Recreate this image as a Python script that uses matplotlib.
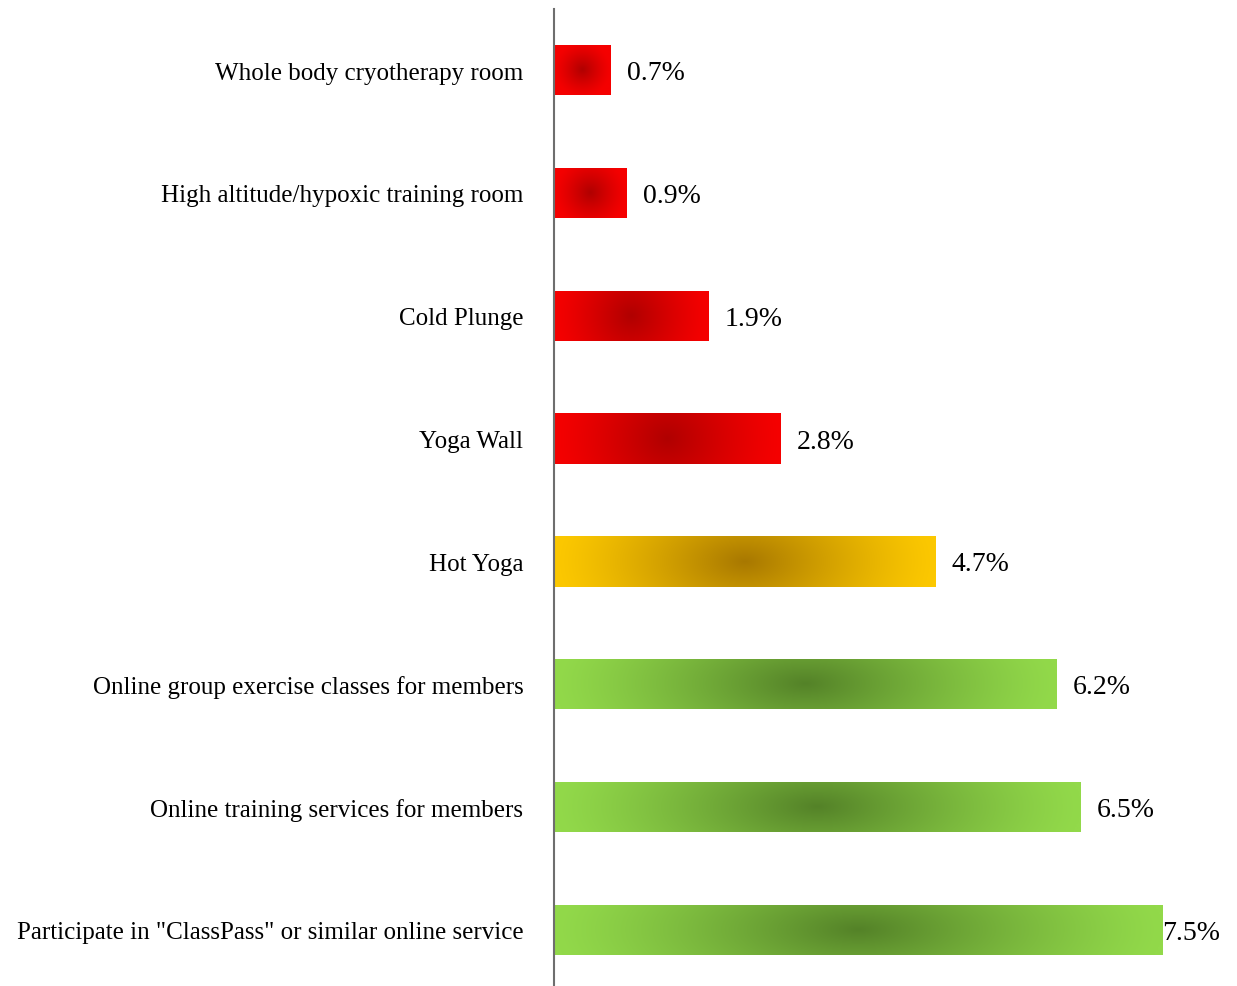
import numpy as np
import matplotlib.pyplot as plt
from matplotlib.colors import to_rgb

# Survey results: share of facilities offering each amenity / service
categories = [
    "Whole body cryotherapy room",
    "High altitude/hypoxic training room",
    "Cold Plunge",
    "Yoga Wall",
    "Hot Yoga",
    "Online group exercise classes for members",
    "Online training services for members",
    'Participate in "ClassPass" or similar online service',
]
values = [0.7, 0.9, 1.9, 2.8, 4.7, 6.2, 6.5, 7.5]
value_labels = ["0.7%", "0.9%", "1.9%", "2.8%", "4.7%", "6.2%", "6.5%", "7.5%"]
bar_groups = ["red", "red", "red", "red", "gold", "green", "green", "green"]

# (edge colour, centre colour) for each gradient
palettes = {
    "red": ("#f50000", "#b00000"),
    "gold": ("#fcc800", "#a87800"),
    "green": ("#92d94a", "#548228"),
}

plt.rcParams["font.family"] = ["Liberation Serif", "DejaVu Serif"]

fig = plt.figure(figsize=(12.37, 9.87), dpi=100)
ax = fig.add_axes([554 / 1237, 0, 683 / 1237, 977 / 987])

ypos = np.arange(len(categories))
bars = ax.barh(ypos, values, height=0.41, color="none", edgecolor="none")

ax.set_xlim(0, 683 / 81.07)
ax.set_ylim(7 + 0.456, -0.497)


def gradient_image(edge, centre, yscale, nx=400, ny=60):
    # dark spot in the middle fading out towards the bar edges
    x = np.linspace(-1, 1, nx)
    y = np.linspace(-1, 1, ny)
    X, Y = np.meshgrid(x, y)
    t = np.clip(np.sqrt(X ** 2 + (yscale * Y) ** 2), 0, 1)
    w = (1 - t) ** 1.25
    e = np.array(to_rgb(edge))
    c = np.array(to_rgb(centre))
    return e + (c - e) * w[..., None]


for rect, grp in zip(bars, bar_groups):
    x0, y0 = rect.get_x(), rect.get_y()
    w, h = rect.get_width(), rect.get_height()
    # roughly round spot on short bars, stretched on long ones
    p0 = ax.transData.transform((x0, y0))
    p1 = ax.transData.transform((x0 + w, y0 + h))
    ratio = abs(p1[1] - p0[1]) / abs(p1[0] - p0[0])
    img = gradient_image(*palettes[grp], yscale=min(1.0, max(0.25, ratio)))
    im = ax.imshow(img, extent=(x0, x0 + w, y0 + h, y0), aspect="auto",
                   interpolation="bilinear", zorder=2)
    im.set_clip_path(rect)

for i, (rect, lab) in enumerate(zip(bars, value_labels)):
    off = 0.0 if i == len(bars) - 1 else 0.2
    ax.text(rect.get_width() + off, rect.get_y() + rect.get_height() / 2 + 0.02,
            lab, va="center", ha="left", fontsize=20, color="black")

ax.set_yticks(ypos)
ax.set_yticklabels(categories, fontsize=18)
ax.tick_params(axis="y", length=0, pad=22)
ax.set_xticks([])

for side in ["top", "right", "bottom"]:
    ax.spines[side].set_visible(False)
ax.spines["left"].set_color("#6e6e6e")
ax.spines["left"].set_linewidth(1.5)
ax.spines["left"].set_zorder(3)

fig.savefig("out.png", dpi=100, facecolor="white")
